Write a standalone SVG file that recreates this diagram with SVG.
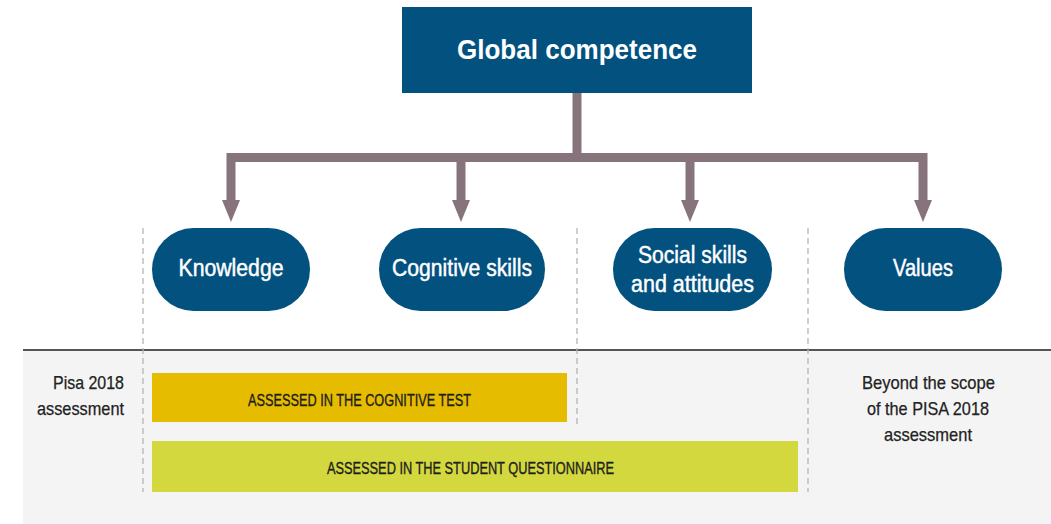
<svg xmlns="http://www.w3.org/2000/svg" width="1051" height="524" viewBox="0 0 1051 524">
<style>
.node{fill:#03517f}
.lbl{font-family:"Liberation Sans",Arial,sans-serif;fill:#fff;stroke:#fff;stroke-width:0.45;text-anchor:middle}
.conn{fill:none;stroke:#87737c;stroke-width:9}
.dash{stroke:#b5b5b5;stroke-width:1.3;stroke-dasharray:6 4;fill:none}
.small{font-family:"Liberation Sans",Arial,sans-serif;fill:#222;stroke:#222;stroke-width:0.25;font-size:19px}
.bar{font-family:"Liberation Sans",Arial,sans-serif;fill:#1e1e1e;stroke:#1e1e1e;stroke-width:0.35;font-size:16px;text-anchor:middle}
</style>
<rect x="0" y="0" width="1051" height="524" fill="#fff"/>
<rect x="23" y="350" width="1028" height="174" fill="#f4f4f4"/>
<line x1="23" y1="350" x2="1051" y2="350" stroke="#555" stroke-width="2"/>
<g id="dividers">
<line class="dash" x1="143" y1="228" x2="143" y2="492"/>
<line class="dash" x1="577" y1="228" x2="577" y2="424"/>
<line class="dash" x1="808" y1="228" x2="808" y2="492"/>
</g>
<g id="connectors">
<line class="conn" x1="577" y1="93" x2="577" y2="157"/>
<path class="conn" d="M231,200 V157.5 H923 V200"/>
<line class="conn" x1="461" y1="157" x2="461" y2="200"/>
<line class="conn" x1="690" y1="157" x2="690" y2="200"/>
<path d="M222,200 L240,200 L231,222 Z" fill="#87737c"/>
<path d="M452,200 L470,200 L461,222 Z" fill="#87737c"/>
<path d="M681,200 L699,200 L690,222 Z" fill="#87737c"/>
<path d="M914,200 L932,200 L923,222 Z" fill="#87737c"/>
</g>
<g id="global-competence">
<rect class="node" x="402" y="7" width="350" height="86"/>
<text class="lbl" x="577" y="59" font-size="28" font-weight="bold" style="stroke-width:0" textLength="240" lengthAdjust="spacingAndGlyphs">Global competence</text>
</g>
<g id="knowledge">
<rect class="node" x="152" y="228" width="158" height="83" rx="41.5"/>
<text class="lbl" x="231" y="276" font-size="23" textLength="105" lengthAdjust="spacingAndGlyphs">Knowledge</text>
</g>
<g id="cognitive-skills">
<rect class="node" x="379" y="228" width="166" height="83" rx="41.5"/>
<text class="lbl" x="462" y="276" font-size="23" textLength="140" lengthAdjust="spacingAndGlyphs">Cognitive skills</text>
</g>
<g id="social-skills">
<rect class="node" x="613" y="228" width="159" height="83" rx="41.5"/>
<text class="lbl" x="692.5" y="263" font-size="23" textLength="109" lengthAdjust="spacingAndGlyphs">Social skills</text>
<text class="lbl" x="692.5" y="292" font-size="23" textLength="123" lengthAdjust="spacingAndGlyphs">and attitudes</text>
</g>
<g id="values">
<rect class="node" x="844" y="228" width="158" height="83" rx="41.5"/>
<text class="lbl" x="923" y="276" font-size="23" textLength="60" lengthAdjust="spacingAndGlyphs">Values</text>
</g>
<g id="pisa-label">
<text class="small" x="124" y="389" text-anchor="end" textLength="71" lengthAdjust="spacingAndGlyphs">Pisa 2018</text>
<text class="small" x="124" y="415" text-anchor="end" textLength="87" lengthAdjust="spacingAndGlyphs">assessment</text>
</g>
<g id="cognitive-test">
<rect x="152" y="373" width="415" height="49" fill="#e6bc00"/>
<text class="bar" x="359.5" y="406" textLength="223" lengthAdjust="spacingAndGlyphs">ASSESSED IN THE COGNITIVE TEST</text>
</g>
<g id="student-questionnaire">
<rect x="152" y="441" width="646" height="51" fill="#d4d83f"/>
<text class="bar" x="470.5" y="474" textLength="287" lengthAdjust="spacingAndGlyphs">ASSESSED IN THE STUDENT QUESTIONNAIRE</text>
</g>
<g id="beyond-scope">
<text class="small" x="928.5" y="389" text-anchor="middle" textLength="133" lengthAdjust="spacingAndGlyphs">Beyond the scope</text>
<text class="small" x="928" y="415" text-anchor="middle" textLength="122" lengthAdjust="spacingAndGlyphs">of the PISA 2018</text>
<text class="small" x="928" y="441" text-anchor="middle" textLength="88" lengthAdjust="spacingAndGlyphs">assessment</text>
</g>
</svg>
